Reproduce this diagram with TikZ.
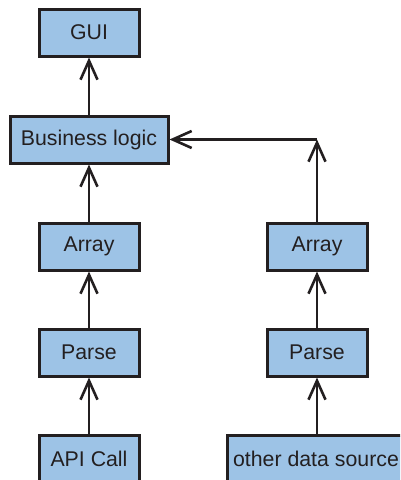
\documentclass[tikz,border=0pt]{standalone}
\usepackage{fontspec}
\setmainfont{Liberation Sans}
\usetikzlibrary{arrows.meta}
\definecolor{boxfill}{HTML}{9DC3E6}
\definecolor{ink}{HTML}{231F20}
\tikzset{
  box/.style={draw=ink, fill=boxfill, line width=3pt, inner sep=0pt,
    minimum height=47pt, text=ink, font=\fontsize{21.3}{25}\selectfont},
  arr/.style={draw=ink, line width=2.6pt,
    -{Straight Barb[length=19pt, width=17pt, line width=2.6pt]}}
}
\begin{document}
\begin{tikzpicture}[x=1pt, y=-1pt]
\useasboundingbox (0,0) rectangle (400,480);
\clip (0,0) rectangle (400,480);
\node[box, minimum width=100pt] (gui) at (89,32.5) {GUI};
\node[box, minimum width=158pt] (bl) at (89,139.5) {Business logic};
\node[box, minimum width=100pt] (la) at (89,246.5) {Array};
\node[box, minimum width=100pt] (lp) at (89,352.5) {Parse};
\node[box, minimum width=100pt] (api) at (89,459) {API Call};
\node[box, minimum width=100pt] (ra) at (317,246.5) {Array};
\node[box, minimum width=100pt] (rp) at (317,352.5) {Parse};
\node[box, minimum width=178pt] (ods) at (316,459) {other data source};
\coordinate (corner) at (ra.north |- bl.east);
\draw[arr] (bl.north) -- (gui.south);
\draw[arr] (la.north) -- (bl.south);
\draw[arr] (lp.north) -- (la.south);
\draw[arr] (api.north) -- (lp.south);
\draw[arr] (rp.north) -- (ra.south);
\draw[arr] (ods.north -| rp.south) -- (rp.south);
\draw[arr] (ra.north) -- (corner);
\draw[arr] (corner) -- (bl.east);
\end{tikzpicture}
\end{document}
